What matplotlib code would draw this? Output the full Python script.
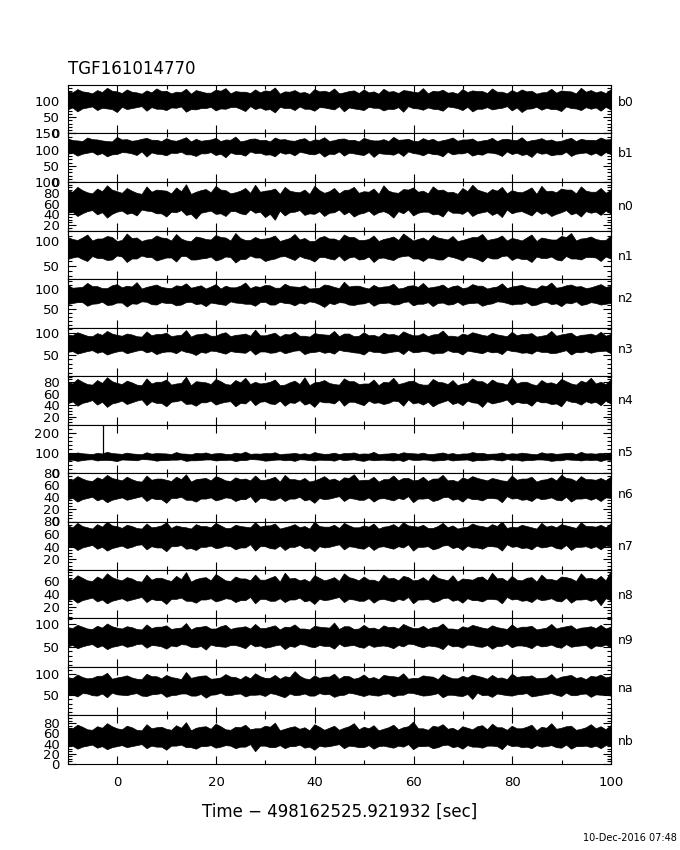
import matplotlib
matplotlib.use('Agg')
import matplotlib.pyplot as plt
from matplotlib.ticker import MultipleLocator
import numpy as np

plt.rcParams['font.family'] = ['DejaVu Sans']

title = 'TGF161014770'
xlabel = 'Time \u2212 498162525.921932 [sec]'
stamp = '10-Dec-2016 07:48'

detectors = ['b0', 'b1', 'n0', 'n1', 'n2', 'n3', 'n4', 'n5', 'n6', 'n7', 'n8', 'n9', 'na', 'nb']

# y range of each panel (counts per bin) and major tick step
y_lo = [0, 0, 10, 24, 5, 2, 6, 0, 0, 3, 2, 6, 2, 0]
y_hi = [148, 150, 100, 121, 126, 113, 91, 242, 80, 80, 78, 112, 117, 95]
y_step = [50, 50, 20, 50, 50, 50, 20, 100, 20, 20, 20, 50, 50, 20]

# upper / lower edge of the noise band: even seconds (-10..100) and odd seconds (-9..99)
b0_hi = [128,134,125,131,138,127,133,124, 130,136,129,126,135,131,123,132,
         137,128,126,133,130,139,127,131, 125,134,129,136,124,130,133,127,
         135,128,131,126,137,129,132,125, 134,130,128,136,126,131,133,129,
         124,135,130,127,138,131,128,133]
b0_hi_o = [124,127,121,125,129,122,126,120,124,128,121, 125,120,127,123,129,121,126,122,124,128,120,
           126,123,119,127,125,121,128,122,124,120,126, 122,129,124,121,127,123,120,125,128,122,126,
           121,124,127,120,125,123,128,121,126,124,122]
b0_lo = [72,66,78,70,75,64,73,79, 68,74,70,77,65,72,76,69,
         74,80,67,73,71,63,76,70, 74,68,78,72,66,75,70,77,
         69,73,65,76,71,74,68,79, 70,66,74,72,77,69,64,75,
         71,73,67,76,70,74,68,72]
b0_lo_o = [78,75,81,77,73,80,76,82,79,74,78, 81,73,76,80,75,79,74,82,78,73,80,
           77,81,74,79,75,82,78,73,80,77,74, 79,82,75,78,73,81,76,80,74,79,75,
           82,78,74,80,77,73,81,75,79,78,80]

b1_hi = [133,127,136,130,125,138,131,128, 135,129,134,126,137,132,128,135,
         130,139,127,133,129,136,131,126, 134,130,137,128,133,129,135,127,
         131,138,130,126,134,132,128,136, 130,133,127,135,131,129,137,128,
         134,130,126,135,132,129,136,131]
b1_hi_o = [128,125,131,127,124,130,126,132,129,125,128, 131,124,126,130,125,129,124,132,128,124,130,
           127,131,124,129,125,132,128,124,130,127,125, 129,132,125,128,124,131,126,130,124,129,125,
           132,128,124,130,127,124,131,125,129,128,130]
b1_lo = [86,80,89,83,78,85,90,82, 77,86,81,88,84,79,87,82,
         75,85,80,88,83,78,86,81, 89,84,77,85,80,87,82,76,
         86,83,79,88,81,85,78,84, 87,80,83,89,79,85,82,76,
         86,81,84,79,88,83,80,85]
b1_lo_o = [89,86,92,88,84,91,87,93,90,85,89, 92,84,87,91,86,90,85,93,89,84,91,
           88,92,85,90,86,93,89,84,91,88,85, 90,93,86,89,84,92,87,91,85,90,86,
           93,89,85,91,88,84,92,86,90,89,91]

n0_hi = [84,90,80,87,93,82,88,79, 91,85,83,89,95,81,86,92,
         84,80,88,94,83,87,90,81, 85,92,79,88,84,90,82,87,
         93,80,86,89,83,91,85,81, 88,94,82,86,90,84,80,89,
         92,83,87,85,91,81,88,84]
n0_hi_o = [81,84,78,82,85,79,83,77,81,84,78, 82,77,84,80,85,78,83,79,81,84,77,
           83,80,77,84,82,78,85,79,81,77,83, 79,85,81,78,84,80,77,82,85,79,83,
           78,81,84,77,82,80,85,78,83,81,79]
n0_lo = [42,36,45,39,33,44,40,37, 46,41,35,43,38,31,44,40,
         36,45,39,42,34,29,37,44, 38,40,36,43,39,35,42,38,
         45,33,41,37,44,39,35,42, 40,36,43,38,34,41,45,37,
         40,36,43,39,35,42,38,41]
n0_lo_o = [44,41,47,43,40,46,42,48,45,41,44, 47,40,42,46,41,45,41,48,44,40,46,
           43,47,41,45,42,48,44,40,46,43,41, 45,48,42,44,40,47,42,46,41,45,42,
           48,44,41,46,43,40,47,42,45,44,46]

n1_hi = [107,101,112,104,109,99,114,106, 102,110,105,113,100,108,103,111,
         106,115,101,107,104,110,102,113, 105,99,109,104,112,107,101,110,
         103,108,114,100,106,111,104,109, 101,107,113,103,110,105,100,112,
         106,102,109,115,104,108,101,110]
n1_hi_o = [103,106,100,104,107,101,105,99,103,106,100, 104,99,106,102,107,100,105,101,103,106,99,
           105,102,99,106,104,100,107,101,103,99,105, 101,107,103,100,106,102,99,104,107,101,105,
           100,103,106,99,104,102,107,100,105,103,101]
n1_lo = [63,68,59,65,61,70,57,64, 67,60,66,58,69,62,65,60,
         68,56,63,66,59,64,69,61, 65,58,67,62,60,68,63,57,
         66,61,69,64,59,65,62,67, 60,66,58,64,69,61,63,57,
         65,68,60,64,62,67,59,64]
n1_lo_o = [66,63,69,65,62,68,64,70,67,63,66, 69,62,64,68,63,67,63,70,66,62,68,
           65,69,63,67,64,70,66,62,68,65,63, 67,70,64,66,62,69,64,68,63,67,64,
           70,66,63,68,65,62,69,64,67,66,68]

n2_hi = [110,104,115,107,102,112,108,117, 105,111,103,109,114,106,101,112,
         108,104,116,107,110,103,113,106, 109,102,111,105,118,108,104,110,
         106,113,103,109,115,105,111,107, 102,112,108,104,114,106,110,103,
         109,116,105,111,107,104,112,108]
n2_hi_o = [103,105,107,102,109,104,106,101,108,105,102, 107,103,109,106,101,104,108,102,105,109,103,
           107,105,101,103,109,102,106,108,101,104,107, 101,108,105,103,107,102,109,104,108,101,106,
           102,108,105,101,107,103,109,106,102,108,105]
n2_lo = [62,67,58,64,60,66,56,63, 68,61,65,59,67,62,57,64,
         60,66,63,58,68,61,65,59, 63,67,55,62,66,60,64,58,
         65,61,67,59,63,57,66,62, 60,65,58,64,68,61,63,59,
         66,62,57,64,60,67,61,65]
n2_lo_o = [65,67,63,68,61,66,64,69,62,67,65, 61,68,64,66,62,69,65,63,67,61,68,
           64,66,69,62,65,67,61,63,68,64,66, 62,69,63,67,65,61,68,64,66,62,69,
           65,63,67,61,68,64,66,69,62,65,63]

n3_hi = [96,101,93,99,104,95,98,92, 103,97,100,94,106,96,99,93,
         101,95,98,107,94,100,97,102, 93,99,96,104,98,92,101,95,
         100,97,103,94,99,96,105,93, 98,101,95,100,94,102,97,99,
         93,104,96,100,95,98,102,97]
n3_hi_o = [94,97,92,95,98,93,96,91,94,97,92, 95,91,97,93,98,92,96,93,94,97,91,
           96,93,91,97,95,92,98,93,94,91,96, 93,98,94,92,97,93,91,95,98,93,96,
           92,94,97,91,95,93,98,92,96,94,93]
n3_lo = [56,52,58,54,50,57,53,59, 55,51,57,53,56,49,54,58,
         52,56,54,50,57,55,53,59, 51,56,54,52,58,55,50,56,
         53,57,51,55,58,52,54,56, 50,57,53,55,51,58,54,52,
         56,53,57,50,55,54,58,53]
n3_lo_o = [58,55,60,57,54,59,56,61,58,55,57, 60,54,56,59,55,58,55,61,57,54,59,
           56,60,55,58,56,61,57,54,59,56,55, 58,61,56,57,54,60,56,59,55,58,56,
           61,57,55,59,56,54,60,56,58,57,59]

n4_hi = [80,85,76,83,88,78,82,75, 86,80,84,77,89,81,79,85,
         76,83,87,80,78,84,75,82, 88,79,83,76,86,81,77,84,
         80,87,78,82,75,85,79,83, 77,86,81,84,78,88,80,76,
         83,79,85,77,82,87,80,84]
n4_hi_o = [77,80,75,78,81,76,79,74,77,80,75, 78,74,80,76,81,75,79,76,77,80,74,
           79,76,74,80,78,75,81,76,77,74,79, 76,81,77,75,80,76,74,78,81,76,79,
           75,77,80,74,78,76,81,75,79,77,76]
n4_lo = [42,38,45,40,36,44,41,47, 39,43,37,46,41,38,44,40,
         45,37,42,39,46,41,38,43, 40,36,44,42,38,45,39,43,
         41,47,38,42,40,37,45,41, 39,44,36,42,46,40,43,38,
         44,41,37,45,40,43,39,42]
n4_lo_o = [46,43,48,45,42,47,44,49,46,43,45, 48,42,44,47,43,46,43,49,45,42,47,
           44,48,43,46,44,49,45,42,47,44,43, 46,49,44,45,42,48,44,47,43,46,44,
           49,45,43,47,44,42,48,44,46,45,47]

n5_hi = [96,100,94,98,103,95,99,93, 101,97,95,102,94,98,100,96,
         93,99,104,95,97,101,94,98, 96,102,93,99,97,100,95,103,
         94,98,101,96,99,93,100,97, 95,102,98,94,100,96,99,93,
         101,97,95,99,103,96,98,100]
n5_hi_o = [94,96,92,95,97,93,95,91,94,96,92, 95,91,96,93,97,92,95,93,94,96,91,
           95,93,91,96,94,92,97,93,94,91,95, 93,97,94,92,96,93,91,95,97,93,95,
           92,94,96,91,95,93,97,92,95,94,93]
n5_lo = [62,58,65,60,63,57,64,61, 66,59,62,64,58,61,65,60,
         63,57,62,66,59,64,61,58, 65,60,63,59,62,66,58,61,
         64,60,57,63,65,59,62,60, 64,58,61,66,60,63,59,62,
         65,58,61,64,60,62,57,63]
n5_lo_o = [64,62,66,63,61,65,63,67,64,62,64, 66,61,63,65,62,64,62,67,64,61,65,
           63,66,62,64,63,67,64,61,65,63,62, 64,67,63,64,61,66,63,65,62,64,63,
           67,64,62,65,63,61,66,63,64,64,65]

n6_hi = [70,74,67,72,76,69,73,66, 75,70,68,73,77,69,71,74,
         67,72,70,75,68,73,76,69, 71,67,74,70,72,77,68,73,
         69,75,71,67,73,70,76,68, 72,74,69,71,67,75,70,73,
         68,72,76,70,74,69,71,73]
n6_hi_o = [68,70,66,69,71,67,69,65,68,70,66, 69,65,70,67,71,66,69,67,68,70,65,
           69,67,65,70,68,66,71,67,68,65,69, 67,71,68,66,70,67,65,69,71,67,69,
           66,68,70,65,69,67,71,66,69,68,67]
n6_lo = [36,32,38,34,31,37,35,39, 33,36,30,38,35,32,37,34,
         39,33,36,31,38,35,33,37, 34,30,36,39,33,37,35,32,
         38,34,36,31,37,33,39,35, 32,36,34,38,31,37,35,33,
         36,39,34,32,37,35,33,38]
n6_lo_o = [38,36,40,37,35,39,37,41,38,36,38, 40,35,37,39,36,38,36,41,38,35,39,
           37,40,36,38,37,41,38,35,39,37,36, 38,41,37,38,35,40,37,39,36,38,37,
           41,38,36,39,37,35,40,37,38,38,39]

n7_hi = [73,77,70,75,79,72,74,69, 76,71,78,73,70,75,72,77,
         69,74,71,78,73,76,70,75, 72,79,71,74,77,70,73,76,
         71,75,78,72,74,69,77,73, 70,76,72,75,79,71,74,70,
         77,73,75,71,78,72,74,76]
n7_hi_o = [70,72,68,71,73,69,72,68,70,73,69, 71,68,72,70,73,69,72,70,71,73,68,
           72,70,68,72,71,69,73,70,71,68,72, 70,73,71,69,72,70,68,71,73,70,72,
           69,70,72,68,71,70,73,69,72,71,70]
n7_lo = [38,34,40,36,33,39,37,42, 35,38,32,40,36,34,39,37,
         41,35,38,33,40,36,34,39, 37,32,38,41,35,39,36,34,
         40,36,38,33,39,35,41,37, 34,38,36,40,33,39,37,35,
         38,41,36,34,39,37,35,40]
n7_lo_o = [40,38,42,39,37,41,39,43,40,38,40, 42,37,39,41,38,40,38,43,40,37,41,
           39,42,38,40,39,43,40,37,41,39,38, 40,43,39,40,37,42,39,41,38,40,39,
           43,40,38,41,39,37,42,39,40,40,41]

n8_hi = [64,69,61,67,72,63,66,60, 70,65,62,68,74,63,66,71,
         61,67,64,70,62,68,73,65, 63,69,61,66,72,64,67,62,
         70,65,68,61,66,71,63,69, 64,62,67,73,65,68,61,66,
         70,63,67,64,72,65,68,75]
n8_hi_o = [62,65,60,63,66,61,64,59,62,65,60, 63,59,65,61,66,60,64,61,62,65,59,
           64,61,59,65,63,60,66,61,62,59,64, 61,66,62,60,65,61,59,63,66,61,64,
           60,62,65,59,63,61,66,60,64,62,61]
n8_lo = [30,26,32,28,25,31,29,33, 27,30,24,32,29,26,31,28,
         33,27,30,25,32,29,27,31, 28,24,30,33,27,31,29,26,
         32,28,30,25,31,27,33,29, 26,30,28,32,25,31,29,27,
         30,33,28,26,31,29,22,30]
n8_lo_o = [32,30,34,31,29,33,31,35,32,30,32, 34,29,31,33,30,32,30,35,32,29,33,
           31,34,30,32,31,35,32,29,33,31,30, 32,35,31,32,29,34,31,33,30,32,31,
           35,32,30,33,31,29,34,31,32,32,33]

n9_hi = [92,97,89,95,100,91,94,88, 98,93,96,90,101,92,95,89,
         97,91,94,99,90,96,93,98, 89,95,92,102,94,88,97,91,
         96,93,99,90,95,92,100,89, 94,97,91,96,90,98,93,95,
         89,99,92,96,91,94,97,93]
n9_hi_o = [90,93,88,91,94,89,92,87,90,93,88, 91,87,93,89,94,88,92,89,90,93,87,
           92,89,87,93,91,88,94,89,90,87,92, 89,94,90,88,93,89,87,91,94,89,92,
           88,90,93,87,91,89,94,88,92,90,89]
n9_lo = [50,46,53,48,44,51,49,55, 47,52,45,50,54,48,43,51,
         49,53,46,50,47,52,44,49, 54,48,51,45,50,53,47,49,
         52,46,50,55,48,51,44,50, 47,53,49,45,51,48,52,46,
         50,54,47,49,52,45,50,48]
n9_lo_o = [53,50,55,52,49,54,51,56,53,50,52, 55,49,51,54,50,53,50,56,52,49,54,
           51,55,50,53,51,56,52,49,54,51,50, 53,56,51,52,49,55,51,54,50,53,51,
           56,52,50,54,51,49,55,51,53,52,54]

na_hi = [92,98,89,95,102,91,96,88, 100,94,97,90,104,93,96,89,
         99,92,95,101,90,97,94,106, 89,96,93,100,95,88,98,92,
         97,94,101,90,96,93,99,89, 95,98,92,97,91,100,94,96,
         90,99,93,97,92,95,98,94]
na_hi_o = [89,92,90,95,88,93,91,87,94,89,92, 87,90,95,88,91,93,87,89,94,90,88,
           92,95,87,90,93,88,94,91,89,87,95, 92,88,90,94,87,93,89,91,95,88,90,
           87,92,94,89,91,88,95,90,87,93,91]
na_lo = [50,46,53,48,44,51,49,54, 47,52,45,50,53,48,43,51,
         49,52,46,50,47,52,44,49, 53,48,51,45,50,53,47,49,
         52,46,50,54,48,51,44,50, 47,40,49,45,51,48,52,46,
         50,54,47,49,52,45,50,48]
na_lo_o = [51,54,49,53,55,50,52,48,51,54,49, 53,48,52,50,55,49,53,50,51,54,48,
           53,50,48,54,52,49,55,50,51,48,53, 50,55,51,49,54,50,48,52,55,50,53,
           49,51,54,48,52,50,55,49,53,51,50]

nb_hi = [70,76,67,73,79,69,74,66, 77,71,68,75,81,70,73,78,
         67,72,76,69,74,80,68,73, 71,77,66,74,70,79,72,75,
         68,76,71,82,69,74,77,70, 73,67,75,78,71,74,69,76,
         72,79,70,74,68,77,73,75]
nb_hi_o = [69,72,66,70,73,67,71,65,69,72,66, 70,65,72,68,73,66,71,67,69,72,65,
           71,68,65,72,70,66,73,67,69,65,71, 67,73,69,66,72,68,65,70,73,67,71,
           66,69,72,65,70,68,73,66,71,69,67]
nb_lo = [33,29,35,31,28,34,32,36, 30,33,27,35,32,29,34,31,
         36,30,33,24,35,32,30,34, 31,27,33,36,30,34,32,29,
         35,31,33,28,34,30,36,32, 29,33,31,35,28,34,32,30,
         33,36,31,29,34,32,30,35]
nb_lo_o = [35,33,37,34,32,36,34,38,35,33,35, 37,32,34,36,33,35,33,38,35,32,36,
           34,37,33,35,34,38,35,32,36,34,33, 35,38,34,35,32,37,34,36,33,35,34,
           38,35,33,36,34,32,37,34,35,35,36]

# single bright bin seen in n5
n5_spike_t = -3.0
n5_spike_val = 240

upper = [(b0_hi, b0_hi_o), (b1_hi, b1_hi_o), (n0_hi, n0_hi_o), (n1_hi, n1_hi_o),
         (n2_hi, n2_hi_o), (n3_hi, n3_hi_o), (n4_hi, n4_hi_o), (n5_hi, n5_hi_o),
         (n6_hi, n6_hi_o), (n7_hi, n7_hi_o), (n8_hi, n8_hi_o), (n9_hi, n9_hi_o),
         (na_hi, na_hi_o), (nb_hi, nb_hi_o)]
lower = [(b0_lo, b0_lo_o), (b1_lo, b1_lo_o), (n0_lo, n0_lo_o), (n1_lo, n1_lo_o),
         (n2_lo, n2_lo_o), (n3_lo, n3_lo_o), (n4_lo, n4_lo_o), (n5_lo, n5_lo_o),
         (n6_lo, n6_lo_o), (n7_lo, n7_lo_o), (n8_lo, n8_lo_o), (n9_lo, n9_lo_o),
         (na_lo, na_lo_o), (nb_lo, nb_lo_o)]

# label offset from panel top, in pixels (layout only)
lab_off = [18, 20, 25, 26, 19, 22, 25, 28, 21, 25, 26, 22, 22, 26]
minor_div = {50: 10, 20: 5, 100: 20}


def edge(pair):
    ev, od = pair
    t = np.concatenate([np.linspace(-10, 100, len(ev)), np.linspace(-9, 99, len(od))])
    v = np.concatenate([ev, od])
    k = np.argsort(t, kind='stable')
    return t[k], v[k]


fig, axes = plt.subplots(len(detectors), 1, sharex=True, figsize=(6.8, 8.5), dpi=100)
fig.subplots_adjust(left=68/680, right=611/680, top=1-85/850, bottom=1-764/850, hspace=0)

for i, ax in enumerate(axes):
    tu, vu = edge(upper[i])
    tl, vl = edge(lower[i])
    ax.fill(np.concatenate([tu, tl[::-1]]), np.concatenate([vu, vl[::-1]]),
            facecolor='black', edgecolor='black', lw=0.5)
    if detectors[i] == 'n5':
        ax.vlines(n5_spike_t, 80, n5_spike_val, color='black', lw=0.9)
    ax.set_xlim(-10, 100)
    ax.set_ylim(y_lo[i], y_hi[i])
    ax.yaxis.set_major_locator(MultipleLocator(y_step[i]))
    ax.yaxis.set_minor_locator(MultipleLocator(minor_div[y_step[i]]))
    ax.xaxis.set_major_locator(MultipleLocator(20))
    ax.xaxis.set_minor_locator(MultipleLocator(10))
    ax.tick_params(which='both', direction='in', top=True, right=True, width=0.8, labelsize=9.5)
    ax.tick_params(which='major', length=5.5)
    ax.tick_params(which='minor', length=3)
    ax.tick_params(axis='y', pad=6)
    ax.tick_params(axis='x', pad=9)
    for s in ax.spines.values():
        s.set_linewidth(0.8)
    ax.text(1.013, 1 - lab_off[i] / 48.5, detectors[i], transform=ax.transAxes,
            va='center', ha='left', fontsize=9)

fig.text(68/680, 1-69/850, title, fontsize=12, ha='left', va='center')
fig.text(339.5/680, 1-812/850, xlabel, fontsize=12, ha='center', va='center')
fig.text(677/680, 1-838/850, stamp, fontsize=7, ha='right', va='center')

plt.savefig('out.png', dpi=100)
plt.close()
